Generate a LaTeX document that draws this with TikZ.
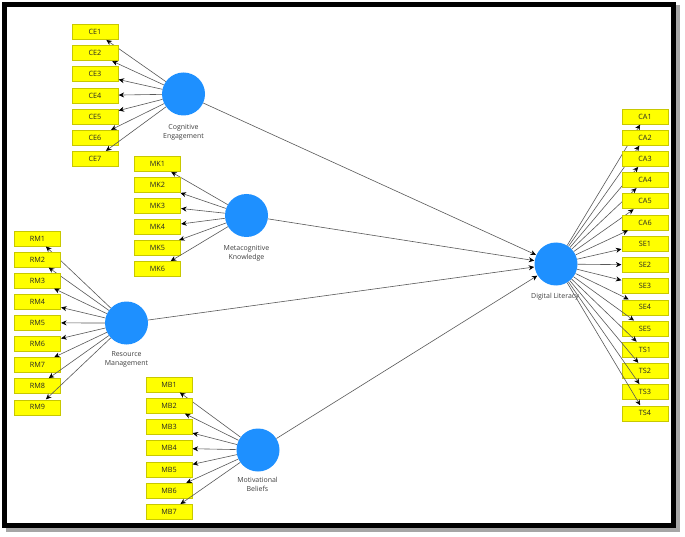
\documentclass[tikz,border=0pt]{standalone}
\usepackage{fontspec}
\setmainfont{Open Sans}
\usetikzlibrary{arrows.meta}
\definecolor{lvblue}{RGB}{30,144,255}
\definecolor{indyellow}{RGB}{255,255,0}
\definecolor{indborder}{RGB}{200,200,0}
\definecolor{txtgray}{RGB}{64,64,64}
\tikzset{
  lv/.style={circle,fill=lvblue,draw=none,minimum size=43bp,inner sep=0pt},
  ind/.style={rectangle,fill=indyellow,draw=indborder,line width=0.6bp,minimum width=46bp,minimum height=15bp,inner sep=0pt,font=\fontsize{7.3}{8}\selectfont,text=black!85},
  lvlabel/.style={align=center,font=\fontsize{7}{9}\selectfont,text=txtgray},
  arr/.style={draw=black!65,line width=0.6bp,-{Stealth[length=5.5bp,width=5bp,black]},shorten >=0.3bp}
}
\begin{document}
\begin{tikzpicture}[x=1bp,y=-1bp]
\useasboundingbox (0,0) rectangle (685,537);
% frame with shadow
\draw[line width=5bp,black!35] (8,8) rectangle (677,529);
\fill[white] (7,7) rectangle (671,523);
\draw[line width=5bp,black] (4.5,4.5) rectangle (673.5,525.5);

% latent variables
\node[lv] (CEc) at (183.5,94) {};
\node[lv] (MKc) at (246.5,215.5) {};
\node[lv] (RMc) at (126.5,323) {};
\node[lv] (MBc) at (258,450) {};
\node[lv] (DLc) at (556,264) {};

\node[lvlabel] (CEl) at (183.5,132.5) {Cognitive\\Engagement};
\node[lvlabel] (MKl) at (246.5,253.5) {Metacognitive\\Knowledge};
\node[lvlabel] (RMl) at (126.5,359.5) {Resource\\Management};
\node[lvlabel] (MBl) at (257.5,484.5) {Motivational\\Beliefs};
\node[lvlabel] (DLl) at (555,297) {Digital Literacy};

% indicators
\foreach \i in {1,...,7} {
  \node[ind] (CE\i) at (95,{32+21.15*(\i-1)}) {CE\i};
  \draw[arr] (CEc) -- (CE\i);
}
\foreach \i in {1,...,6} {
  \node[ind] (MK\i) at (157.5,{164+21*(\i-1)}) {MK\i};
  \draw[arr] (MKc) -- (MK\i);
}
\foreach \i in {1,...,9} {
  \node[ind] (RM\i) at (37.5,{238.5+21.1*(\i-1)}) {RM\i};
  \draw[arr] (RMc) -- (RM\i);
}
\foreach \i in {1,...,7} {
  \node[ind] (MB\i) at (169,{384.5+21.25*(\i-1)}) {MB\i};
  \draw[arr] (MBc) -- (MB\i);
}
\foreach \n [count=\k] in {CA1,CA2,CA3,CA4,CA5,CA6,SE1,SE2,SE3,SE4,SE5,TS1,TS2,TS3,TS4} {
  \node[ind] (\n) at (645,{116.5+21.2*(\k-1)}) {\n};
  \draw[arr] (DLc) -- (\n);
}

% structural paths
\draw[arr] (CEc) -- (DLc);
\draw[arr] (MKc) -- (DLc);
\draw[arr] (RMc) -- (DLc);
\draw[arr] (MBc) -- (DLc);
\end{tikzpicture}
\end{document}
